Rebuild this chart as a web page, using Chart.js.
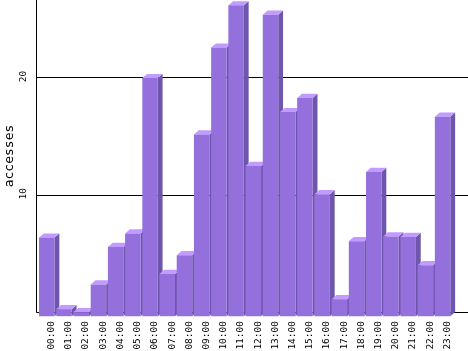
<!DOCTYPE html>
<html>
<head>
<meta charset="utf-8">
<script src="https://cdn.jsdelivr.net/npm/chart.js@4.4.1/dist/chart.umd.min.js"></script>
<style>
  html, body { margin: 0; padding: 0; background: #fff; }
  #wrap { width: 468px; height: 351px; }
</style>
</head>
<body>
<div id="wrap"><canvas id="graphAccesses"></canvas></div>
<script>
var hours = ['00:00', '01:00', '02:00', '03:00', '04:00', '05:00', '06:00', '07:00',
             '08:00', '09:00', '10:00', '11:00', '12:00', '13:00', '14:00', '15:00',
             '16:00', '17:00', '18:00', '19:00', '20:00', '21:00', '22:00', '23:00'];
var accesses = [6.7, 0.6, 0.35, 2.7, 5.9, 7.05, 20.3, 3.6,
                5.2, 15.5, 22.9, 26.5, 12.8, 25.7, 17.4, 18.6,
                10.4, 1.45, 6.4, 12.3, 6.8, 6.75, 4.35, 17.0];
var yTicks = [0, 10, 20];
var yTickLabels = ['', '10', '20'];
var yMax = 26.6;

// 3d look
var DX = 4.8, DY = 4.2;
var AXIS_GAP = 7.5;
var FRONT = '#9370db', TOP = '#c39aff', SIDE = '#6e56ad';
var MONO = "'DejaVu Sans Mono', monospace";

var bar3d = {
    id: 'bar3d',
    beforeDatasetsDraw(chart) {
        var ctx = chart.ctx;
        var area = chart.chartArea;
        var y = chart.scales.y;
        var x0 = Math.round(area.left - AXIS_GAP) + 0.5;
        var yBase = Math.round(y.getPixelForValue(0)) + 0.5;
        ctx.save();
        ctx.strokeStyle = '#000';
        ctx.lineWidth = 1;
        y.ticks.forEach(function (t) {
            var py = Math.round(y.getPixelForValue(t.value)) + 0.5;
            ctx.beginPath();
            ctx.moveTo(x0, py);
            ctx.lineTo(chart.width, py);
            ctx.stroke();
        });
        ctx.beginPath();
        ctx.moveTo(x0, area.top);
        ctx.lineTo(x0, yBase);
        ctx.stroke();
        // rotated y tick labels
        ctx.fillStyle = '#000';
        ctx.font = '9.5px ' + MONO;
        ctx.textAlign = 'center';
        ctx.textBaseline = 'middle';
        y.ticks.forEach(function (t, i) {
            var py = y.getPixelForValue(t.value) - 1;
            ctx.save();
            ctx.translate(x0 - 12.5, py);
            ctx.rotate(-Math.PI / 2);
            ctx.fillText(yTickLabels[i], 0, 0);
            ctx.restore();
        });
        ctx.restore();
    },
    beforeDatasetDraw(chart, args) {
        var ctx = chart.ctx;
        args.meta.data.forEach(function (bar) {
            var p = bar.getProps(['x', 'y', 'base', 'width'], true);
            var l = p.x - p.width / 2, r = p.x + p.width / 2;
            ctx.save();
            // side face
            ctx.fillStyle = SIDE;
            ctx.beginPath();
            ctx.moveTo(r - DX, p.y + DY);
            ctx.lineTo(r, p.y);
            ctx.lineTo(r, p.base);
            ctx.lineTo(r - DX, p.base + DY);
            ctx.closePath();
            ctx.fill();
            // top face
            ctx.fillStyle = TOP;
            ctx.beginPath();
            ctx.moveTo(l - DX, p.y + DY);
            ctx.lineTo(l, p.y);
            ctx.lineTo(r, p.y);
            ctx.lineTo(r - DX, p.y + DY);
            ctx.closePath();
            ctx.fill();
            // front face
            ctx.translate(-DX, DY);
            bar.draw(ctx);
            ctx.restore();
        });
        return false;
    }
};

var myChartAccesses = new Chart(document.querySelector('#graphAccesses'), {
    type: 'bar',
    data: {
        labels: hours,
        datasets: [{
            data: accesses,
            backgroundColor: FRONT,
            borderWidth: 0,
            categoryPercentage: 1,
            barPercentage: 0.9
        }]
    },
    options: {
        responsive: true,
        maintainAspectRatio: false,
        animation: false,
        layout: { padding: { top: 0, right: 10, bottom: 0, left: 0 } },
        plugins: {
            legend: { display: false },
            tooltip: { enabled: false }
        },
        scales: {
            x: {
                grid: { display: false, drawTicks: false },
                border: { display: false },
                ticks: {
                    color: '#000',
                    font: { family: MONO, size: 9.5 },
                    minRotation: 90,
                    maxRotation: 90,
                    padding: 9,
                    autoSkip: false
                },
                afterFit: function (scale) { scale.height = 39; }
            },
            y: {
                min: 0,
                max: yMax,
                grid: { display: false, drawTicks: false },
                border: { display: false },
                ticks: { display: false },
                title: {
                    display: true,
                    text: 'accesses',
                    color: '#000',
                    font: { family: MONO, size: 13 },
                    padding: { top: 2, bottom: 0 }
                },
                afterBuildTicks: function (scale) {
                    scale.ticks = yTicks.map(function (v) { return { value: v }; });
                },
                afterFit: function (scale) { scale.width = 43; }
            }
        }
    },
    plugins: [bar3d]
});
</script>
</body>
</html>
